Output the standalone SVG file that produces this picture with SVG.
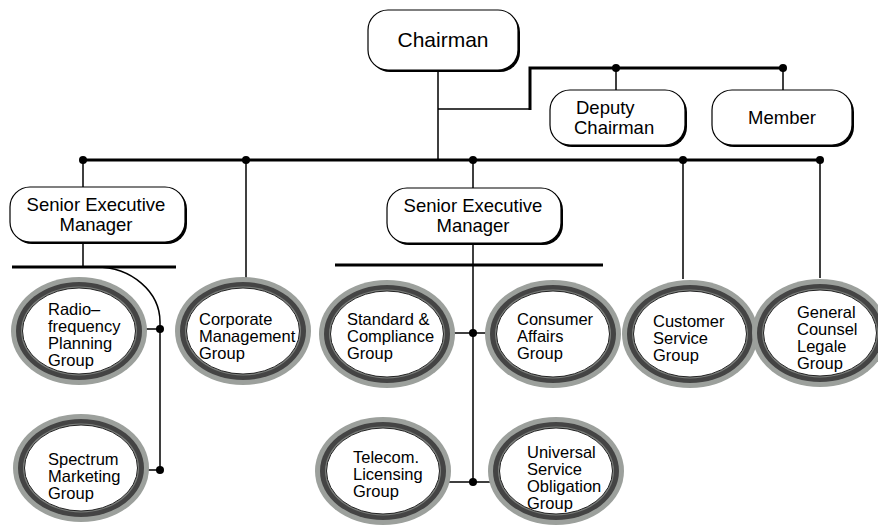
<svg xmlns="http://www.w3.org/2000/svg" width="878" height="526" viewBox="0 0 878 526">
  <style>
    .box { fill: #fff; stroke: #000; stroke-width: 1.2; }
    .shadow { fill: #000; }
    .txt { font-family: "Liberation Sans", Arial, sans-serif; fill: #000; }
    .big { font-size: 21px; }
    .mid { font-size: 18.5px; }
    .small { font-size: 16.5px; }
    .thick { stroke: #000; stroke-width: 3; fill: none; }
    .thin { stroke: #000; stroke-width: 1.5; fill: none; }
    .dot { fill: #000; }
    .ring1 { fill: #9ca09c; }
    .ring2 { fill: #444; }
    .ring3 { fill: #7c7f7c; }
    .core { fill: #fff; stroke: #222; stroke-width: 1; }
  </style>
  <defs>
    <!-- triple-ring oval used for the groups -->
    <g id="oval">
      <ellipse class="ring1" cx="0" cy="0" rx="68" ry="54"/>
      <ellipse class="ring2" cx="0" cy="0" rx="63" ry="49"/>
      <ellipse class="ring3" cx="0" cy="0" rx="58" ry="44.5"/>
      <ellipse class="core" cx="0" cy="0" rx="56.5" ry="43"/>
    </g>
  </defs>
  <rect width="878" height="526" fill="#fff"/>

  <!-- connectors -->
  <g id="connectors">
    <path class="thin" d="M438 70 V160 M438 109 H530"/>
    <path class="thick" d="M530 110 V68 H783"/>
    <path class="thin" d="M616 68 V90 M783 68 V90"/>
    <path class="thick" d="M82 160 H820"/>
    <path class="thin" d="M83 160 V187 M83 242 V267"/>
    <path class="thick" d="M12 267 H176"/>
    <path class="thin" d="M96 267 A64 55 0 0 1 160 322 V470 M145 329 H160 M147 470 H160"/>
    <path class="thin" d="M246 160 V278"/>
    <path class="thin" d="M473 160 V188 M473 243 V482"/>
    <path class="thick" d="M335 265 H603"/>
    <path class="thin" d="M452 333 H488 M448 482 H492"/>
    <path class="thin" d="M683 160 V279 M820 160 V278"/>
    <circle class="dot" cx="616" cy="68" r="4"/>
    <circle class="dot" cx="783" cy="68" r="4"/>
    <circle class="dot" cx="83" cy="160" r="4"/>
    <circle class="dot" cx="246" cy="160" r="4"/>
    <circle class="dot" cx="473" cy="160" r="4"/>
    <circle class="dot" cx="683" cy="160" r="4"/>
    <circle class="dot" cx="820" cy="160" r="4"/>
    <circle class="dot" cx="160" cy="329" r="4"/>
    <circle class="dot" cx="160" cy="470" r="4"/>
    <circle class="dot" cx="473" cy="333" r="4"/>
    <circle class="dot" cx="473" cy="482" r="4"/>
  </g>

  <g id="chairman">
    <rect class="shadow" x="370" y="12" width="150" height="60" rx="20"/>
    <rect class="box" x="368" y="10" width="150" height="60" rx="20"/>
    <text class="txt big" x="443" y="47" text-anchor="middle">Chairman</text>
  </g>

  <g id="deputy-chairman">
    <rect class="shadow" x="552" y="92" width="135" height="55" rx="20"/>
    <rect class="box" x="550" y="90" width="135" height="55" rx="20"/>
    <text class="txt mid" x="576" y="114">Deputy</text>
    <text class="txt mid" x="574" y="134">Chairman</text>
  </g>

  <g id="member">
    <rect class="shadow" x="714" y="92" width="140" height="55" rx="20"/>
    <rect class="box" x="712" y="90" width="140" height="55" rx="20"/>
    <text class="txt mid" x="782" y="124" text-anchor="middle">Member</text>
  </g>

  <g id="sem-left">
    <rect class="shadow" x="12" y="189" width="175" height="55" rx="20"/>
    <rect class="box" x="10" y="187" width="175" height="55" rx="20"/>
    <text class="txt mid" x="96" y="211" text-anchor="middle">Senior Executive</text>
    <text class="txt mid" x="96" y="231" text-anchor="middle">Manager</text>
  </g>

  <g id="sem-center">
    <rect class="shadow" x="389" y="190" width="174" height="55" rx="20"/>
    <rect class="box" x="387" y="188" width="174" height="55" rx="20"/>
    <text class="txt mid" x="473" y="212" text-anchor="middle">Senior Executive</text>
    <text class="txt mid" x="473" y="232" text-anchor="middle">Manager</text>
  </g>

  <g id="radiofrequency">
    <use href="#oval" x="79" y="331"/>
    <text class="txt small"><tspan x="48" y="315">Radio–</tspan><tspan x="48" y="332">frequency</tspan><tspan x="48" y="349">Planning</tspan><tspan x="48" y="366">Group</tspan></text>
  </g>

  <g id="spectrum">
    <use href="#oval" x="81" y="468"/>
    <text class="txt small"><tspan x="48" y="465">Spectrum</tspan><tspan x="48" y="482">Marketing</tspan><tspan x="48" y="499">Group</tspan></text>
  </g>

  <g id="corporate">
    <use href="#oval" x="243" y="331"/>
    <text class="txt small"><tspan x="199" y="325">Corporate</tspan><tspan x="199" y="342">Management</tspan><tspan x="199" y="359">Group</tspan></text>
  </g>

  <g id="standard">
    <use href="#oval" x="387" y="334"/>
    <text class="txt small"><tspan x="347" y="325">Standard &amp;</tspan><tspan x="347" y="342">Compliance</tspan><tspan x="347" y="359">Group</tspan></text>
  </g>

  <g id="consumer">
    <use href="#oval" x="553" y="334"/>
    <text class="txt small"><tspan x="517" y="325">Consumer</tspan><tspan x="517" y="342">Affairs</tspan><tspan x="517" y="359">Group</tspan></text>
  </g>

  <g id="telecom">
    <use href="#oval" x="383" y="471"/>
    <text class="txt small"><tspan x="353" y="463">Telecom.</tspan><tspan x="353" y="480">Licensing</tspan><tspan x="353" y="497">Group</tspan></text>
  </g>

  <g id="universal">
    <use href="#oval" x="556" y="471"/>
    <text class="txt small"><tspan x="527" y="458">Universal</tspan><tspan x="527" y="475">Service</tspan><tspan x="527" y="492">Obligation</tspan><tspan x="527" y="509">Group</tspan></text>
  </g>

  <g id="customer">
    <use href="#oval" x="690" y="334"/>
    <text class="txt small"><tspan x="653" y="327">Customer</tspan><tspan x="653" y="344">Service</tspan><tspan x="653" y="361">Group</tspan></text>
  </g>

  <g id="counsel">
    <use href="#oval" x="820" y="333"/>
    <text class="txt small"><tspan x="797" y="318">General</tspan><tspan x="797" y="335">Counsel</tspan><tspan x="797" y="352">Legale</tspan><tspan x="797" y="369">Group</tspan></text>
  </g>
</svg>
